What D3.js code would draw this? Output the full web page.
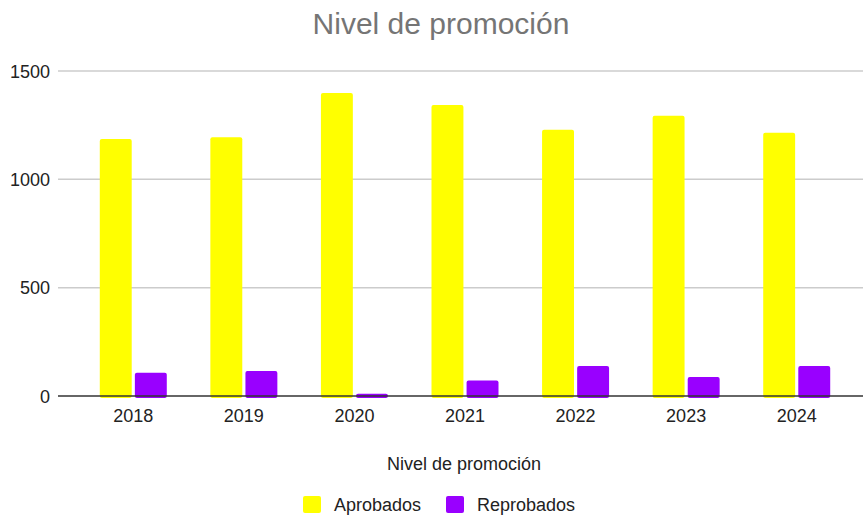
<!DOCTYPE html>
<html>
<head>
<meta charset="utf-8">
<script src="https://cdn.jsdelivr.net/npm/d3@7"></script>
<style>
  body { margin: 0; background: #fff; }
  text { font-family: "Liberation Sans", Arial, sans-serif; }
</style>
</head>
<body>
<div id="chart-area"></div>
<script>
var years = ["2018", "2019", "2020", "2021", "2022", "2023", "2024"];
var aprobados = [1186, 1194, 1398, 1343, 1229, 1294, 1215];
var reprobados = [107, 115, 10, 72, 138, 88, 138];
var seriesNames = ["Aprobados", "Reprobados"];
var seriesColors = ["#ffff00", "#9900ff"];
var yTicks = [0, 500, 1000, 1500];

var width = 863, height = 516;

var svg = d3.select("#chart-area").append("svg")
    .attr("width", width)
    .attr("height", height);

var data = years.map((y, i) => ({year: y, values: [aprobados[i], reprobados[i]]}));

var x = d3.scaleBand()
    .domain(years)
    .range([78, 852])
    .paddingInner(0)
    .paddingOuter(0);

var y = d3.scaleLinear()
    .domain([0, 1500])
    .range([396, 71]);

// inner scale for the two bars of each year
var x1 = d3.scaleBand()
    .domain([0, 1])
    .range([x.bandwidth() / 2 - 33.5, x.bandwidth() / 2 + 33.5])
    .paddingInner(0.09);

// title
svg.append("text")
    .attr("x", 441)
    .attr("y", 34)
    .attr("text-anchor", "middle")
    .attr("font-size", 30)
    .attr("fill", "#757575")
    .text("Nivel de promoción");

// gridlines
svg.append("g").selectAll("line").data(yTicks.filter(d => d > 0)).enter()
    .append("line")
    .attr("x1", 58).attr("x2", 863)
    .attr("y1", d => y(d)).attr("y2", d => y(d))
    .attr("stroke", "#cccccc")
    .attr("stroke-width", 1.5);

// y labels
svg.append("g").selectAll("text").data(yTicks).enter()
    .append("text")
    .attr("x", 50)
    .attr("y", d => y(d) + 6.5)
    .attr("text-anchor", "end")
    .attr("font-size", 18)
    .attr("fill", "#222")
    .text(d => d);

// bars
var groups = svg.append("g").selectAll("g").data(data).enter()
    .append("g")
    .attr("transform", d => "translate(" + x(d.year) + ",0)");

groups.selectAll("rect").data(d => d.values).enter()
    .append("rect")
    .attr("x", (d, i) => x1(i))
    .attr("y", d => y(d))
    .attr("width", x1.bandwidth())
    .attr("height", d => y(0) - y(d) + 2)
    .attr("rx", 2)
    .attr("fill", (d, i) => seriesColors[i]);

// baseline
svg.append("line")
    .attr("x1", 58).attr("x2", 863)
    .attr("y1", y(0)).attr("y2", y(0))
    .attr("stroke", "#333")
    .attr("stroke-width", 1.5);

// x labels
svg.append("g").selectAll("text").data(years).enter()
    .append("text")
    .attr("x", d => x(d) + x.bandwidth() / 2)
    .attr("y", 422)
    .attr("text-anchor", "middle")
    .attr("font-size", 18)
    .attr("fill", "#222")
    .text(d => d);

// x axis title
svg.append("text")
    .attr("x", 464)
    .attr("y", 470)
    .attr("text-anchor", "middle")
    .attr("font-size", 18)
    .attr("fill", "#222")
    .text("Nivel de promoción");

// legend
var legendX = [303, 446];
var legend = svg.append("g").selectAll("g").data(seriesNames).enter()
    .append("g")
    .attr("transform", (d, i) => "translate(" + legendX[i] + ",496)");

legend.append("rect")
    .attr("width", 18).attr("height", 17)
    .attr("rx", 2)
    .attr("fill", (d, i) => seriesColors[i]);

legend.append("text")
    .attr("x", 31)
    .attr("y", 15)
    .attr("font-size", 18)
    .attr("fill", "#222")
    .text(d => d);
</script>
</body>
</html>
